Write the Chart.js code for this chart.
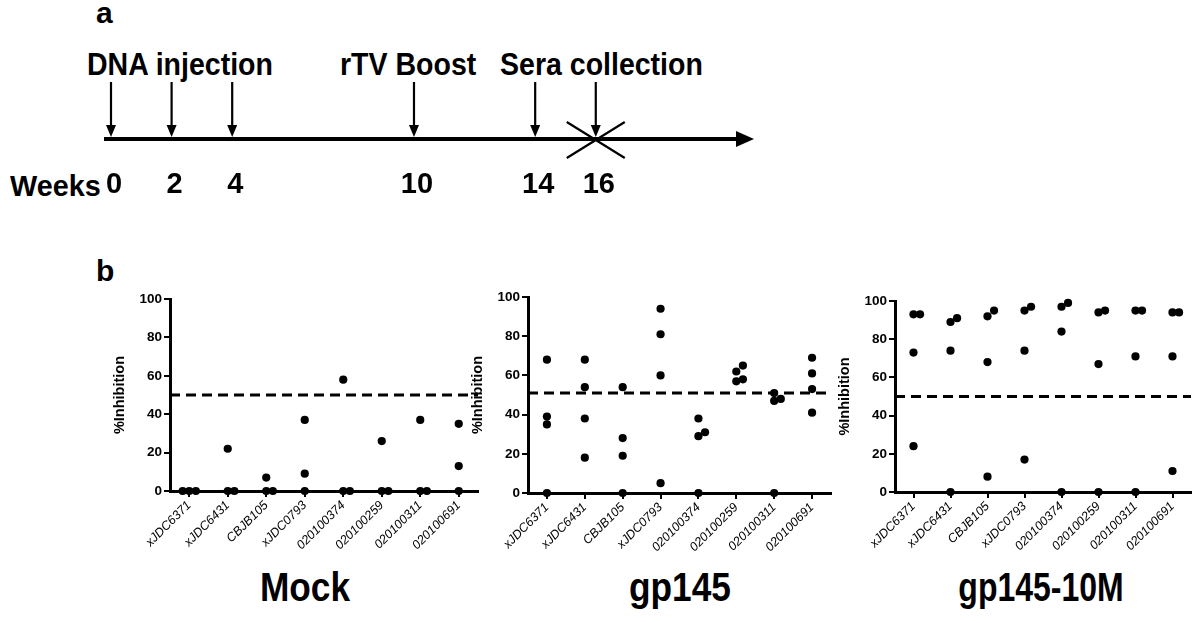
<!DOCTYPE html>
<html>
<head>
<meta charset="utf-8">
<script src="https://cdn.jsdelivr.net/npm/chart.js@4.4.0/dist/chart.umd.min.js"></script>
<style>
    body { margin: 0; background: #fff; width: 1200px; height: 623px; position: relative; overflow: hidden;
           font-family: "Liberation Sans", Arial, Helvetica, sans-serif; }
    .lbl { position: absolute; font-weight: bold; color: #000; white-space: nowrap; line-height: 1; }
    .cond { transform-origin: 0 0; transform: scaleX(0.92); }
    .ttl { transform: translateX(-50%) scaleX(0.86); }
    canvas { position: absolute; }
</style>
</head>
<body>
<div class="lbl" style="left:96px;top:-2px;font-size:30px">a</div>
<div class="lbl" style="left:96px;top:256px;font-size:30px">b</div>
<div class="lbl cond" style="left:87px;top:49px;font-size:31px">DNA injection</div>
<div class="lbl cond" style="left:340px;top:49px;font-size:31px">rTV Boost</div>
<div class="lbl cond" style="left:500px;top:49px;font-size:31px">Sera collection</div>
<div class="lbl cond" style="left:10px;top:171px;font-size:30px;transform:scaleX(0.96)">Weeks</div>

<div class="lbl ttl" style="left:305px;top:567px;font-size:41px">Mock</div>
<div class="lbl ttl" style="left:680px;top:567px;font-size:41px">gp145</div>
<div class="lbl ttl" style="left:1041px;top:567px;font-size:41px;transform:translateX(-50%) scaleX(0.78)">gp145-10M</div>

<canvas id="timeline" width="800" height="230" style="left:0;top:0"></canvas>
<canvas id="chart-mock" width="378" height="274" style="left:108px;top:287px"></canvas>
<canvas id="chart-gp145" width="373" height="278" style="left:466px;top:285px"></canvas>
<canvas id="chart-10m" width="366" height="273" style="left:833px;top:289px"></canvas>

<script>
// ================================
//   DATA
// ================================
const weeks = [0, 2, 4, 10, 14, 16];
const sacrificeWeek = 16;

const categories = ["xJDC6371", "xJDC6431", "CBJB105", "xJDC0793",
                    "020100374", "020100259", "020100311", "020100691"];

// %Inhibition, one list per pseudovirus
const mockValues = [
    [0, 0, 0],
    [22, 0, 0],
    [7, 0, 0],
    [37, 9, 0],
    [58, 0, 0],
    [26, 0, 0],
    [37, 0, 0],
    [35, 13, 0]
];
const gp145Values = [
    [68, 39, 35, 0],
    [68, 54, 38, 18],
    [54, 28, 19, 0],
    [94, 81, 60, 5],
    [38, 31, 29, 0],
    [65, 62, 58, 57],
    [51, 48, 47, 0],
    [69, 61, 53, 41]
];
const gp14510MValues = [
    [93, 93, 73, 24],
    [91, 89, 74, 0],
    [95, 92, 68, 8],
    [97, 95, 74, 17],
    [99, 97, 84, 0],
    [95, 94, 67, 0],
    [95, 95, 71, 0],
    [94, 94, 71, 11]
];
const cutoffs = [50, 51, 50];
const yTicks = [0, 20, 40, 60, 80, 100];

Chart.defaults.font.family = '"Liberation Sans", Arial, Helvetica, sans-serif';
Chart.defaults.color = '#000';

// ================================
//   TIMELINE (a)
// ================================
const timelinePlugin = {
    id: 'timeline',
    afterDraw(chart) {
        const { ctx, chartArea, scales: { x } } = chart;
        const yLine = chartArea.bottom;
        ctx.save();
        ctx.fillStyle = '#000';
        ctx.strokeStyle = '#000';

        // main arrow head
        ctx.beginPath();
        ctx.moveTo(chartArea.right + 14, yLine);
        ctx.lineTo(chartArea.right - 4, yLine - 8);
        ctx.lineTo(chartArea.right - 4, yLine + 8);
        ctx.closePath();
        ctx.fill();

        // down arrows
        ctx.lineWidth = 2.2;
        weeks.forEach(w => {
            const px = x.getPixelForValue(w);
            ctx.beginPath();
            ctx.moveTo(px, chartArea.top);
            ctx.lineTo(px, yLine - 8);
            ctx.stroke();
            ctx.beginPath();
            ctx.moveTo(px, yLine - 2);
            ctx.lineTo(px - 5, yLine - 14);
            ctx.lineTo(px + 5, yLine - 14);
            ctx.closePath();
            ctx.fill();
        });

        // cross at sacrifice
        const sx = x.getPixelForValue(sacrificeWeek);
        ctx.lineWidth = 2.2;
        ctx.beginPath();
        ctx.moveTo(sx - 29, yLine - 17);
        ctx.lineTo(sx + 29, yLine + 19);
        ctx.moveTo(sx + 29, yLine - 17);
        ctx.lineTo(sx - 29, yLine + 19);
        ctx.stroke();
        ctx.restore();
    }
};

new Chart(document.getElementById('timeline'), {
    type: 'scatter',
    data: { datasets: [{ data: [], pointRadius: 0 }] },
    options: {
        responsive: false,
        animation: false,
        layout: { padding: { top: 82, left: 106, right: 60, bottom: 0 } },
        plugins: { legend: { display: false }, tooltip: { enabled: false } },
        scales: {
            x: {
                type: 'linear', min: -0.165, max: 20.76,
                afterBuildTicks: s => { s.ticks = weeks.map(v => ({ value: v })); },
                afterFit: s => { s.height = 91; },
                ticks: { font: { size: 29, weight: 'bold' }, color: '#000', padding: 29,
                         labelOffset: 3, maxRotation: 0, autoSkip: false },
                grid: { display: false, drawTicks: false },
                border: { display: true, color: '#000', width: 4 }
            },
            y: { display: false, min: 0, max: 1 }
        }
    },
    plugins: [timelinePlugin]
});

// ================================
//   SCATTER PANELS (b)
// ================================
const DOT_STEP = 6.6;   // px between side-by-side dots
const DOT_GAP = 6.6;    // px, minimum distance before dots are shifted

function spreadPoints(values, pxPerUnitY, pxPerCat) {
    const pts = [];
    values.forEach((vals, i) => {
        const placed = [];
        [...vals].sort((a, b) => a - b).forEach(v => {
            for (const k of [0, 1, -1, 2, -2]) {
                const free = placed.every(p =>
                    Math.hypot((k - p.k) * DOT_STEP, (v - p.v) * pxPerUnitY) >= DOT_GAP);
                if (free) { placed.push({ v, k }); break; }
            }
        });
        placed.forEach(p => pts.push({ x: i + p.k * DOT_STEP / pxPerCat, y: p.v }));
    });
    return pts;
}

function makePanel(id, values, cutoff, plotHeight, plotWidth) {
    const pts = spreadPoints(values, plotHeight / 100, plotWidth / categories.length);
    return new Chart(document.getElementById(id), {
        type: 'scatter',
        data: {
            datasets: [
                {
                    data: pts,
                    pointRadius: 4.1,
                    pointHoverRadius: 4.1,
                    pointBorderWidth: 0,
                    backgroundColor: '#000',
                    borderColor: '#000',
                    clip: false
                },
                {
                    data: [{ x: -0.5, y: cutoff }, { x: categories.length - 0.5, y: cutoff }],
                    showLine: true,
                    pointRadius: 0,
                    borderColor: '#000',
                    borderWidth: 3,
                    borderDash: [10, 6],
                    clip: false
                }
            ]
        },
        options: {
            responsive: false,
            animation: false,
            layout: { padding: { top: 12, right: 8, left: 0, bottom: 0 } },
            plugins: { legend: { display: false }, tooltip: { enabled: false } },
            scales: {
                x: {
                    type: 'linear', min: -0.5, max: categories.length - 0.5,
                    afterBuildTicks: s => { s.ticks = categories.map((c, i) => ({ value: i })); },
                    afterFit: s => { s.height = 70; },
                    ticks: {
                        callback: v => categories[v],
                        autoSkip: false, minRotation: 45, maxRotation: 45,
                        font: { size: 12.5, style: 'italic' }, color: '#000', padding: 1
                    },
                    grid: { drawOnChartArea: false, drawTicks: true, tickLength: 6, color: '#000', lineWidth: 2 },
                    border: { color: '#000', width: 3 }
                },
                y: {
                    min: 0, max: 100,
                    afterBuildTicks: s => { s.ticks = yTicks.map(v => ({ value: v })); },
                    afterFit: s => { s.width = 62; },
                    ticks: { font: { size: 13.5, weight: 'bold' }, color: '#000', padding: 2 },
                    grid: { drawOnChartArea: false, drawTicks: true, tickLength: 6, color: '#000', lineWidth: 2 },
                    border: { color: '#000', width: 3 },
                    title: {
                        display: true, text: '%Inhibition', color: '#000',
                        font: { size: 14.5, weight: 'bold' }, padding: { top: 3, bottom: 0 }
                    }
                }
            }
        }
    });
}

makePanel('chart-mock', mockValues, cutoffs[0], 192, 308);
makePanel('chart-gp145', gp145Values, cutoffs[1], 196, 303);
makePanel('chart-10m', gp14510MValues, cutoffs[2], 191, 298);
</script>
</body>
</html>
